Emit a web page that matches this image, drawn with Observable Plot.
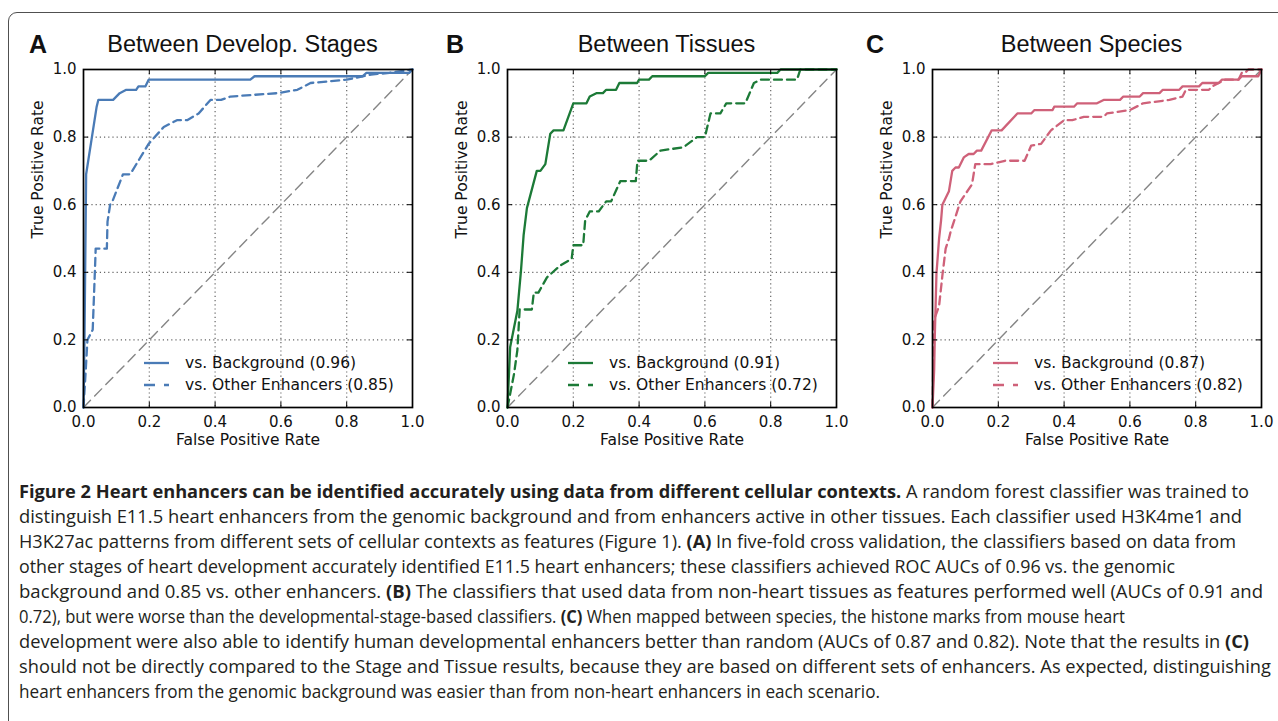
<!DOCTYPE html>
<html><head><meta charset="utf-8">
<script src="https://cdn.jsdelivr.net/npm/d3@7"></script>
<script src="https://cdn.jsdelivr.net/npm/@observablehq/plot@0.6"></script>
<style>
html,body{margin:0;padding:0;background:#fff;}
#fig{position:relative;width:1278px;height:721px;overflow:hidden;background:#fff;}
.border{position:absolute;left:8px;top:12px;width:1320px;height:800px;border:1.5px solid #505050;border-radius:9px;box-sizing:border-box;}
.panel{position:absolute;top:55px;}
.panel svg{overflow:visible;}
.letter{position:absolute;font:bold 25px "Liberation Sans",Arial,sans-serif;line-height:25px;color:#111;}
.title{position:absolute;font:23.5px "Liberation Sans",Arial,sans-serif;line-height:23.5px;color:#111;transform:translateX(-50%);white-space:nowrap;}
.legend{position:absolute;font:15.5px "DejaVu Sans",sans-serif;color:#111;}
.legend .row{display:flex;align-items:center;height:22px;white-space:nowrap;}
.legend svg{margin-right:16px;flex:none;}
.caption{position:absolute;left:19px;top:479px;font:18px "Open Sans",sans-serif;color:#231f20;}
.caption .ln{height:25px;line-height:25px;white-space:nowrap;transform-origin:0 0;width:max-content;}
</style></head><body><div id="fig"><div class="border"></div></div><script>
// ---------- data ----------
const tickValues = [0, 0.2, 0.4, 0.6, 0.8, 1.0];
const gridValues = [0.2, 0.4, 0.6, 0.8];
const chance = [0, 1];
const xLabel = "False Positive Rate";
const yLabel = "True Positive Rate";

const panelLetters = ["A", "B", "C"];
const panelTitles = ["Between Develop. Stages", "Between Tissues", "Between Species"];
const panelColors = ["#4a7bb6", "#1c7a37", "#cf6179"];
const bgLabels = ["vs. Background (0.96)", "vs. Background (0.91)", "vs. Background (0.87)"];
const otherLabels = ["vs. Other Enhancers (0.85)", "vs. Other Enhancers (0.72)", "vs. Other Enhancers (0.82)"];

// A: between developmental stages
const stagesBgFpr = [0, 0.003, 0.008, 0.04, 0.045, 0.09, 0.11, 0.13, 0.16, 0.167, 0.188, 0.198, 0.507, 0.52, 0.848, 0.86, 0.99, 1.0];
const stagesBgTpr = [0, 0.20, 0.69, 0.89, 0.91, 0.91, 0.93, 0.94, 0.94, 0.95, 0.95, 0.97, 0.97, 0.98, 0.98, 0.99, 0.99, 1.0];
const stagesOtherFpr = [0, 0.005, 0.012, 0.028, 0.036, 0.037, 0.071, 0.073, 0.081, 0.088, 0.12, 0.142, 0.198, 0.244, 0.284, 0.315, 0.35, 0.386, 0.418, 0.447, 0.59, 0.65, 0.69, 0.80, 0.874, 0.93, 1.0];
const stagesOtherTpr = [0, 0.08, 0.20, 0.23, 0.44, 0.47, 0.47, 0.55, 0.60, 0.61, 0.69, 0.69, 0.78, 0.83, 0.85, 0.85, 0.87, 0.91, 0.91, 0.92, 0.93, 0.94, 0.96, 0.97, 0.985, 0.99, 1.0];

// B: between tissues
const tissuesBgFpr = [0, 0.008, 0.03, 0.041, 0.049, 0.059, 0.089, 0.10, 0.115, 0.13, 0.14, 0.17, 0.20, 0.24, 0.25, 0.27, 0.29, 0.30, 0.33, 0.34, 0.394, 0.40, 0.43, 0.44, 0.60, 0.61, 0.82, 0.83, 1.0];
const tissuesBgTpr = [0, 0.178, 0.286, 0.405, 0.51, 0.59, 0.70, 0.70, 0.72, 0.81, 0.82, 0.82, 0.90, 0.90, 0.92, 0.93, 0.93, 0.94, 0.94, 0.96, 0.96, 0.97, 0.97, 0.98, 0.98, 0.99, 0.99, 1.0, 1.0];
const tissuesOtherFpr = [0, 0.02, 0.03, 0.037, 0.074, 0.08, 0.094, 0.12, 0.16, 0.195, 0.20, 0.23, 0.236, 0.25, 0.277, 0.30, 0.315, 0.343, 0.39, 0.395, 0.43, 0.465, 0.535, 0.576, 0.60, 0.617, 0.647, 0.665, 0.723, 0.749, 0.77, 0.88, 0.89, 1.0];
const tissuesOtherTpr = [0, 0.10, 0.17, 0.29, 0.29, 0.34, 0.34, 0.385, 0.42, 0.44, 0.48, 0.48, 0.553, 0.58, 0.58, 0.61, 0.61, 0.67, 0.67, 0.73, 0.73, 0.76, 0.77, 0.80, 0.80, 0.87, 0.87, 0.90, 0.90, 0.96, 0.97, 0.97, 1.0, 1.0];

// C: between species
const speciesBgFpr = [0, 0.005, 0.007, 0.012, 0.02, 0.026, 0.03, 0.05, 0.06, 0.07, 0.08, 0.095, 0.11, 0.125, 0.135, 0.148, 0.18, 0.21, 0.258, 0.30, 0.31, 0.365, 0.37, 0.43, 0.44, 0.50, 0.52, 0.57, 0.58, 0.63, 0.64, 0.69, 0.70, 0.75, 0.76, 0.81, 0.82, 0.87, 0.88, 0.93, 0.94, 0.99, 1.0];
const speciesBgTpr = [0, 0.11, 0.21, 0.395, 0.50, 0.553, 0.60, 0.64, 0.70, 0.71, 0.71, 0.74, 0.75, 0.75, 0.76, 0.76, 0.82, 0.82, 0.87, 0.87, 0.88, 0.88, 0.89, 0.89, 0.90, 0.90, 0.91, 0.91, 0.92, 0.92, 0.93, 0.93, 0.94, 0.94, 0.95, 0.95, 0.96, 0.96, 0.97, 0.97, 0.98, 0.98, 1.0];
const speciesOtherFpr = [0, 0.005, 0.02, 0.03, 0.04, 0.05, 0.055, 0.085, 0.12, 0.13, 0.177, 0.22, 0.28, 0.30, 0.33, 0.36, 0.40, 0.425, 0.46, 0.52, 0.53, 0.60, 0.64, 0.72, 0.76, 0.77, 0.84, 0.85, 0.89, 0.93, 0.94, 0.95, 0.96, 1.0];
const speciesOtherTpr = [0, 0.26, 0.30, 0.39, 0.47, 0.50, 0.52, 0.61, 0.66, 0.72, 0.72, 0.73, 0.73, 0.775, 0.78, 0.82, 0.85, 0.85, 0.86, 0.86, 0.87, 0.88, 0.90, 0.91, 0.92, 0.94, 0.94, 0.95, 0.97, 0.97, 0.99, 0.99, 1.0, 1.0];

const captionLines = [
  "<b>Figure 2 Heart enhancers can be identified accurately using data from different cellular contexts.</b> A random forest classifier was trained to",
  "distinguish E11.5 heart enhancers from the genomic background and from enhancers active in other tissues. Each classifier used H3K4me1 and",
  "H3K27ac patterns from different sets of cellular contexts as features (Figure 1). <b>(A)</b> In five-fold cross validation, the classifiers based on data from",
  "other stages of heart development accurately identified E11.5 heart enhancers; these classifiers achieved ROC AUCs of 0.96 vs. the genomic",
  "background and 0.85 vs. other enhancers. <b>(B)</b> The classifiers that used data from non-heart tissues as features performed well (AUCs of 0.91 and",
  "0.72), but were worse than the developmental-stage-based classifiers. <b>(C)</b> When mapped between species, the histone marks from mouse heart",
  "development were also able to identify human developmental enhancers better than random (AUCs of 0.87 and 0.82). Note that the results in <b>(C)</b>",
  "should not be directly compared to the Stage and Tissue results, because they are based on different sets of enhancers. As expected, distinguishing",
  "heart enhancers from the genomic background was easier than from non-heart enhancers in each scenario."
];

// ---------- layout ----------
const fig = document.getElementById("fig");
const toRows = (xs, ys) => xs.map((x, i) => ({fpr: x, tpr: ys[i]}));
const series = [
  [toRows(stagesBgFpr, stagesBgTpr), toRows(stagesOtherFpr, stagesOtherTpr)],
  [toRows(tissuesBgFpr, tissuesBgTpr), toRows(tissuesOtherFpr, tissuesOtherTpr)],
  [toRows(speciesBgFpr, speciesBgTpr), toRows(speciesOtherFpr, speciesOtherTpr)]
];
const layout = [
  {left: 0, width: 425, ml: 83, mr: 13, letterX: 29},
  {left: 425, width: 425, ml: 82, mr: 14, letterX: 446},
  {left: 850, width: 428, ml: 82, mr: 17, letterX: 866}
];
const H = 400, MT = 14, MB = 48;
const fmt = d3.format(".1f");

layout.forEach((L, k) => {
  const innerW = L.width - L.ml - L.mr;
  const innerH = H - MT - MB;
  const color = panelColors[k];
  const [bg, other] = series[k];
  const chart = Plot.plot({
    width: L.width, height: H,
    marginTop: MT, marginBottom: MB, marginLeft: L.ml, marginRight: L.mr,
    style: {fontFamily: "'DejaVu Sans', sans-serif", fontSize: "15px", color: "#111", background: "transparent", overflow: "visible"},
    x: {domain: [0, 1]},
    y: {domain: [0, 1]},
    marks: [
      Plot.gridX(gridValues, {stroke: "#666", strokeOpacity: 1, strokeWidth: 1.2, strokeDasharray: "1.2,3"}),
      Plot.gridY(gridValues, {stroke: "#666", strokeOpacity: 1, strokeWidth: 1.2, strokeDasharray: "1.2,3"}),
      Plot.line(chance, {x: d => d, y: d => d, stroke: "#858585", strokeWidth: 1.4, strokeDasharray: "10,6"}),
      Plot.line(other, {x: "fpr", y: "tpr", stroke: color, strokeWidth: 2.3, strokeDasharray: "8,5"}),
      Plot.line(bg, {x: "fpr", y: "tpr", stroke: color, strokeWidth: 2.3}),
      Plot.tickX(gridValues, {x: d => d, insetTop: innerH - 5, stroke: "#000"}),
      Plot.tickX(gridValues, {x: d => d, insetBottom: innerH - 5, stroke: "#000"}),
      Plot.tickY(gridValues, {y: d => d, insetRight: innerW - 5, stroke: "#000"}),
      Plot.tickY(gridValues, {y: d => d, insetLeft: innerW - 5, stroke: "#000"}),
      Plot.frame({stroke: "#000", strokeWidth: 1.7}),
      Plot.axisX(tickValues, {tickSize: 0, tickPadding: 9, tickFormat: fmt, label: null, fontSize: 15}),
      Plot.axisY(tickValues, {tickSize: 0, tickPadding: 7, tickFormat: fmt, label: null, fontSize: 15}),
      Plot.text([xLabel], {text: d => d, frameAnchor: "bottom", dy: 37, fontSize: 15.5, fill: "#111"}),
      Plot.text([yLabel], {text: d => d, frameAnchor: "left", dx: -45, rotate: -90, fontSize: 15.5, fill: "#111"})
    ]
  });
  const wrap = document.createElement("div");
  wrap.className = "panel";
  wrap.style.left = L.left + "px";
  wrap.appendChild(chart);
  fig.appendChild(wrap);

  const letter = document.createElement("div");
  letter.className = "letter";
  letter.textContent = panelLetters[k];
  letter.style.left = L.letterX + "px";
  letter.style.top = "32px";
  fig.appendChild(letter);

  const title = document.createElement("div");
  title.className = "title";
  title.textContent = panelTitles[k];
  title.style.left = (L.left + L.ml + innerW / 2 - 5) + "px";
  title.style.top = "33px";
  fig.appendChild(title);

  const legend = document.createElement("div");
  legend.className = "legend";
  legend.style.left = (L.left + L.ml + 61) + "px";
  legend.style.top = "352px";
  const mkRow = (label, dash) => {
    const row = document.createElement("div");
    row.className = "row";
    row.innerHTML = `<svg width="25" height="22"><line x1="0" y1="11" x2="25" y2="11" stroke="${color}" stroke-width="2.3" ${dash ? 'stroke-dasharray="11,9"' : ""}/></svg><span>${label}</span>`;
    return row;
  };
  legend.appendChild(mkRow(bgLabels[k], false));
  legend.appendChild(mkRow(otherLabels[k], true));
  fig.appendChild(legend);
});

// caption
const cap = document.createElement("div");
cap.className = "caption";
captionLines.forEach(t => {
  const d = document.createElement("div");
  d.className = "ln";
  d.innerHTML = t;
  cap.appendChild(d);
});
fig.appendChild(cap);
const targetWidths = [1230, 1223, 1217, 1156, 1244, 1106, 1230, 1252, 861];
function fitCaption() {
  Array.from(cap.children).forEach((d, i) => {
    d.style.transform = "none";
    const w = d.getBoundingClientRect().width;
    if (w > 0) d.style.transform = `scaleX(${targetWidths[i] / w})`;
  });
}
fitCaption();
if (document.fonts && document.fonts.ready) document.fonts.ready.then(fitCaption);
</script></body></html>
